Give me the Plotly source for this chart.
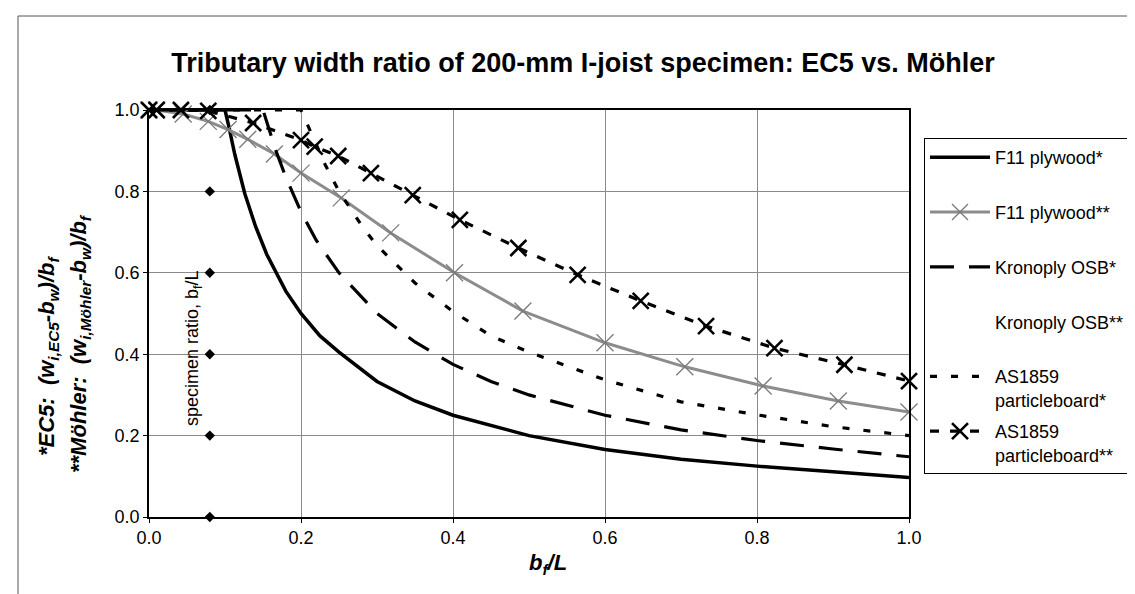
import plotly.graph_objects as go

# ---------------- data ----------------
f11_ec5_x = [0, 0.05, 0.1, 0.105, 0.113, 0.126, 0.14, 0.155, 0.167, 0.18, 0.2, 0.225, 0.25,
             0.3, 0.35, 0.4, 0.5, 0.6, 0.7, 0.8, 0.9, 1.0]
f11_ec5_y = [1, 1, 1, 0.96, 0.89, 0.795, 0.715, 0.645, 0.6, 0.555, 0.5, 0.445, 0.405,
             0.333, 0.285, 0.25, 0.2, 0.166, 0.142, 0.125, 0.111, 0.097]

f11_moh_x = [0, 0.01, 0.045, 0.078, 0.104, 0.13, 0.165, 0.2, 0.253, 0.318, 0.402, 0.492,
             0.6, 0.705, 0.808, 0.907, 1.0]
f11_moh_y = [1, 1, 0.99, 0.972, 0.952, 0.928, 0.892, 0.845, 0.784, 0.698, 0.6, 0.506,
             0.428, 0.369, 0.322, 0.285, 0.258]

osb_ec5_x = [0, 0.05, 0.1, 0.15, 0.167, 0.18, 0.2, 0.22, 0.25, 0.3, 0.35, 0.4, 0.45, 0.5,
             0.6, 0.7, 0.8, 0.9, 1.0]
osb_ec5_y = [1, 1, 1, 1, 0.9, 0.835, 0.75, 0.68, 0.6, 0.5, 0.43, 0.375, 0.333, 0.3,
             0.25, 0.214, 0.188, 0.167, 0.148]

osb_moh_x = [None]   # series has no visible line/markers in the reference
osb_moh_y = [None]

as_ec5_x = [0, 0.05, 0.1, 0.15, 0.2, 0.232, 0.25, 0.282, 0.3, 0.35, 0.4, 0.45, 0.5, 0.6,
            0.7, 0.8, 0.9, 1.0]
as_ec5_y = [1, 1, 1, 1, 1, 0.865, 0.8, 0.71, 0.667, 0.575, 0.505, 0.445, 0.405, 0.337,
            0.283, 0.251, 0.222, 0.2]

as_moh_x = [0, 0.01, 0.042, 0.078, 0.137, 0.2, 0.218, 0.249, 0.292, 0.347, 0.409, 0.486,
            0.564, 0.647, 0.733, 0.823, 0.915, 1.0]
as_moh_y = [1, 1, 1, 0.998, 0.968, 0.926, 0.91, 0.887, 0.845, 0.791, 0.73, 0.661, 0.595,
            0.531, 0.469, 0.415, 0.374, 0.334]

specimen_x = [0.08, 0.08, 0.08, 0.08, 0.08, 0.08]
specimen_y = [0.0, 0.2, 0.4, 0.6, 0.8, 1.0]

tick_vals = [0.0, 0.2, 0.4, 0.6, 0.8, 1.0]
tick_text = ["0.0", "0.2", "0.4", "0.6", "0.8", "1.0"]

names = ["F11 plywood*<br> ", "F11 plywood**<br> ", "Kronoply OSB*<br> ",
         "Kronoply OSB**<br> ", "AS1859<br>particleboard*", "AS1859<br>particleboard**"]

# ---------------- layout geometry (pixels) ----------------
W, H = 1135, 594
PL, PR, PT, PB = 141, 901, 102, 509
FONT = "Liberation Sans, Arial, sans-serif"


def fx(p):
    return (p - PL) / (PR - PL)


def fy(p):
    return (PB - p) / (PB - PT)


fig = go.Figure()
fig.add_trace(go.Scatter(x=f11_ec5_x, y=f11_ec5_y, name=names[0], mode="lines",
                         line=dict(color="black", width=3.5), legendgroup="a",
                         cliponaxis=False))
fig.add_trace(go.Scatter(x=f11_moh_x, y=f11_moh_y, name=names[1], mode="lines+markers",
                         line=dict(color="#8c8c8c", width=3),
                         marker=dict(symbol="x-thin", size=17,
                                     line=dict(color="#7a7a7a", width=1.3)),
                         legendgroup="b", cliponaxis=False))
fig.add_trace(go.Scatter(x=osb_ec5_x, y=osb_ec5_y, name=names[2], mode="lines",
                         line=dict(color="black", width=3.2, dash="24px,15px"),
                         legendgroup="c", cliponaxis=False))
fig.add_trace(go.Scatter(x=osb_moh_x, y=osb_moh_y, name=names[3], mode="lines",
                         line=dict(color="rgba(0,0,0,0)", width=1),
                         legendgroup="d"))
fig.add_trace(go.Scatter(x=as_ec5_x, y=as_ec5_y, name=names[4], mode="lines",
                         line=dict(color="black", width=3.2, dash="7px,14px"),
                         legendgroup="e", cliponaxis=False))
fig.add_trace(go.Scatter(x=as_moh_x, y=as_moh_y, name=names[5], mode="lines+markers",
                         line=dict(color="black", width=3.2, dash="9px,11px"),
                         marker=dict(symbol="x-thin", size=16,
                                     line=dict(color="black", width=2.6)),
                         legendgroup="f", cliponaxis=False))
fig.add_trace(go.Scatter(x=specimen_x, y=specimen_y, mode="markers", showlegend=False,
                         marker=dict(symbol="diamond", size=8, color="black"),
                         cliponaxis=False))

axis_common = dict(range=[0, 1], tickvals=tick_vals, ticktext=tick_text,
                   showgrid=True, gridcolor="#8a8a8a", gridwidth=1,
                   showline=True, linecolor="black", linewidth=1.5, mirror=True,
                   ticks="outside", ticklen=4, tickcolor="black",
                   tickfont=dict(family=FONT, size=18, color="black"),
                   zeroline=False, fixedrange=True)

fig.update_layout(
    width=W, height=H,
    margin=dict(l=PL, r=W - PR, t=PT, b=H - PB, pad=0),
    paper_bgcolor="white", plot_bgcolor="white",
    xaxis=axis_common, yaxis=axis_common,
    title=dict(text="Tributary width ratio of 200-mm I-joist specimen: EC5 vs. Möhler",
               x=575 / W, xref="container", xanchor="center",
               y=1 - 55 / H, yref="container", yanchor="middle",
               font=dict(family=FONT, size=27, color="black", weight="bold")),
    legend=dict(x=fx(916), y=fy(130), xanchor="left", yanchor="top",
                bordercolor="black", borderwidth=1, bgcolor="white",
                font=dict(family=FONT, size=18, color="black"),
                itemwidth=60, tracegroupgap=5, valign="top", traceorder="grouped"),
    showlegend=True,
)

ann_font = dict(family=FONT, size=22, color="black", weight="bold", style="italic")
fig.add_annotation(text="*EC5:\u00a0\u00a0(w<sub>i,EC5</sub>-b<sub>w</sub>)/b<sub>f</sub>",
                   xref="paper", yref="paper", x=fx(40), y=fy(348), textangle=-90,
                   showarrow=False, xanchor="center", yanchor="middle", font=ann_font)
fig.add_annotation(text="**Möhler:\u00a0\u00a0(w<sub>i,Möhler</sub>-b<sub>w</sub>)/b<sub>f</sub>",
                   xref="paper", yref="paper", x=fx(72), y=fy(336), textangle=-90,
                   showarrow=False, xanchor="center", yanchor="middle", font=ann_font)
fig.add_annotation(text="b<sub>f</sub>/L", xref="paper", yref="paper",
                   x=fx(540), y=fy(556), showarrow=False, xanchor="center",
                   yanchor="middle", font=ann_font)
fig.add_annotation(text="specimen ratio, b<sub>f</sub>/L", xref="paper", yref="paper",
                   x=fx(185), y=fy(340), textangle=-90, showarrow=False,
                   xanchor="center", yanchor="middle",
                   font=dict(family=FONT, size=18, color="black"))

# outer chart frame (left and top edges visible in the reference)
fig.add_shape(type="line", xref="paper", yref="paper", x0=fx(10), x1=fx(10),
              y0=fy(8), y1=fy(590), line=dict(color="#555555", width=1))
fig.add_shape(type="line", xref="paper", yref="paper", x0=fx(10), x1=fx(1135),
              y0=fy(8), y1=fy(8), line=dict(color="#555555", width=1))

fig.write_html("out.html")
